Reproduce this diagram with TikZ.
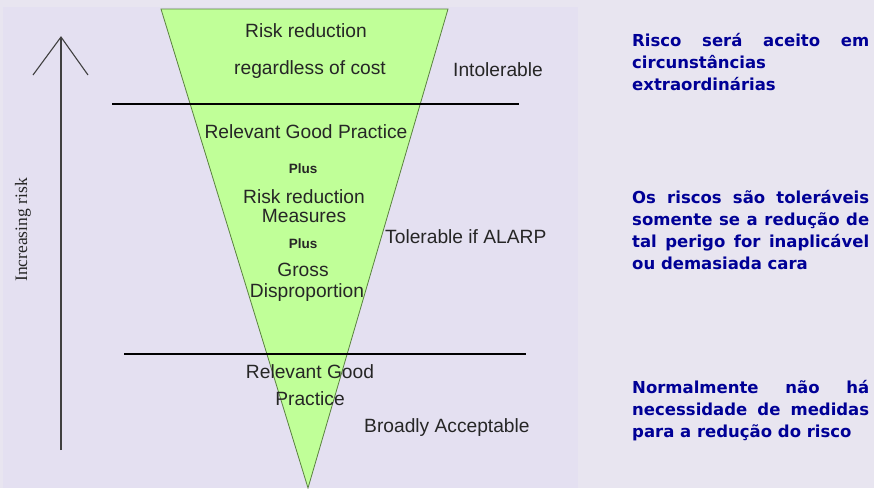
\documentclass[tikz,border=0pt]{standalone}
\usepackage{fontspec}
\setmainfont{Liberation Sans}
\newfontfamily\axisfont{Liberation Serif}
\newfontfamily\notefont{DejaVu Sans}
\usepackage{tikz}

\definecolor{pagebg}{RGB}{232,229,240}
\definecolor{panelbg}{RGB}{228,224,241}
\definecolor{funnelfill}{RGB}{192,255,152}
\definecolor{funneledge}{RGB}{90,130,64}
\definecolor{noteblue}{RGB}{0,0,150}

\newcommand\notelines{\tolerance=10000 \hbadness=10000 }

\tikzset{
  zone/.style={inner sep=0pt, font=\fontsize{19.2}{22}\selectfont, text=black!85},
  plustag/.style={inner sep=0pt, font=\fontsize{13.5}{16}\bfseries\selectfont, text=black!85},
  note/.style={inner sep=0pt, anchor=base west, text width=237pt, align=justify,
    text=noteblue, font=\notefont\bfseries\fontsize{16.5}{22}\selectfont,
    execute at begin node=\notelines}
}

\begin{document}
\begin{tikzpicture}[x=1pt,y=-1pt]
\useasboundingbox (0,0) rectangle (874,488);
\fill[pagebg] (0,0) rectangle (874,488);
\fill[panelbg] (3,7) rectangle (578,488);

% funnel
\filldraw[fill=funnelfill, draw=funneledge, line width=0.8pt]
  (161,9) -- (448,9) -- (308,488) -- cycle;

% zone borders
\draw[line width=2.3pt] (112,104) -- (519,104);
\draw[line width=2.3pt] (124,354) -- (526,354);

% risk axis
\coordinate (axisbot) at (61,450);
\coordinate (axistop) at (61,37);
\draw[black!75, line width=1.1pt] (axisbot) -- (axistop);
\draw[black!75, line width=1.1pt] (33,75) -- (axistop) -- (88,75);
\node[inner sep=0pt, anchor=base, rotate=90, font=\axisfont\fontsize{17.5}{20}\selectfont, text=black!85]
  (axislabel) at (27,230) {Increasing risk};

% texts inside the funnel
\node[zone, anchor=base] (topa) at (306,37) {Risk reduction};
\node[zone, anchor=base] (topb) at (310,74) {regardless of cost};
\node[zone, anchor=base] (mida) at (306,138) {Relevant Good Practice};
\node[plustag, anchor=base] (plusa) at (303,173) {Plus};
\node[zone, anchor=base] (midb) at (304,203) {Risk reduction};
\node[zone, anchor=base] (midc) at (304,222) {Measures};
\node[plustag, anchor=base] (plusb) at (303,248) {Plus};
\node[zone, anchor=base] (midd) at (303,276) {Gross};
\node[zone, anchor=base] (mide) at (307,297) {Disproportion};
\node[zone, anchor=base] (lowa) at (310,378) {Relevant Good};
\node[zone, anchor=base] (lowb) at (310,405) {Practice};

% zone names
\node[zone, anchor=base west] (intol) at (453,76) {Intolerable};
\node[zone, anchor=base west] (alarp) at (385,243) {Tolerable if ALARP};
\node[zone, anchor=base west] (broad) at (364,432) {Broadly Acceptable};

% notes on the right
\node[note] (notea) at (632,46)
  {Risco será aceito em\linebreak circunstâncias\linebreak extraordinárias};
\node[note] (noteb) at (632,203)
  {Os riscos são toleráveis\linebreak somente se a redução de\linebreak tal perigo for inaplicável\linebreak ou demasiada cara};
\node[note] (notec) at (632,393)
  {Normalmente não há\linebreak necessidade de medidas\linebreak para a redução do risco};
\end{tikzpicture}
\end{document}
